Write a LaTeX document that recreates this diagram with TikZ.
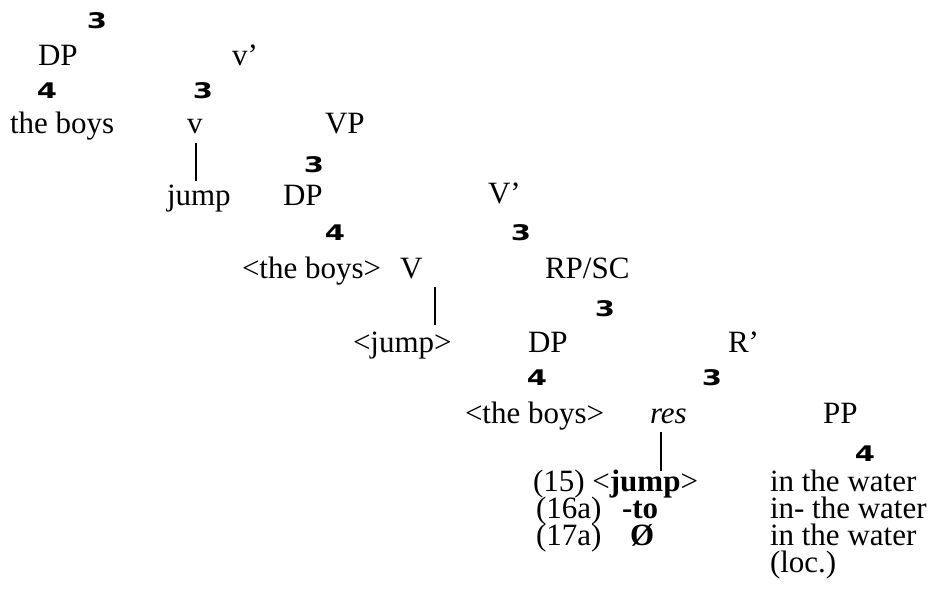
\documentclass[tikz,border=0pt]{standalone}
\usepackage{fontspec}
\setmainfont{Liberation Serif}
\newfontfamily\digfont{DejaVu Sans}[BoldFont={DejaVu Sans Bold}]
\newcommand{\brdig}[1]{\scalebox{1.35}[1]{\digfont\bfseries #1}}
\begin{document}
\begin{tikzpicture}[x=1pt,y=1pt,
  lbl/.style={anchor=base west,inner sep=0pt,outer sep=0pt,font=\fontsize{31}{36}\selectfont},
  dig/.style={anchor=base,inner sep=0pt,outer sep=0pt,font=\fontsize{21.5}{24}\selectfont},
  stem/.style={line width=2.2pt}]
\useasboundingbox (0,0) rectangle (933,-614);
% upper tree
\node[dig] (d1) at (97,-28) {\brdig{3}};
\node[lbl] (DPa) at (38,-65) {DP};
\node[lbl] (vbar) at (232,-65) {v’};
\node[dig] (d2) at (47,-98) {\brdig{4}};
\node[dig] (d3) at (203,-98) {\brdig{3}};
\node[lbl] (boysa) at (10,-133) {the boys};
\node[lbl] (v) at (187,-133) {v};
\node[lbl] (VPa) at (325,-133) {VP};
\node[dig] (d4) at (314,-172) {\brdig{3}};
\node[lbl] (jumpa) at (167,-205) {jump};
\node[lbl] (DPb) at (283,-205) {DP};
\node[lbl] (Vbar) at (488,-203) {V’};
\node[dig] (d5) at (335,-240) {\brdig{4}};
\node[dig] (d6) at (521,-240) {\brdig{3}};
\node[lbl] (boysb) at (242,-278) {<the boys>};
\node[lbl] (V) at (400,-278) {V};
\node[lbl] (RPSC) at (545,-278) {RP/SC};
\node[dig] (d7) at (605,-316) {\brdig{3}};
\node[lbl] (jumpb) at (353,-352) {<jump>};
\node[lbl] (DPc) at (528,-352) {DP};
\node[lbl] (Rbar) at (728,-352) {R’};
\node[dig] (d8) at (537,-385) {\brdig{4}};
\node[dig] (d9) at (712,-385) {\brdig{3}};
\node[lbl] (boysc) at (465,-423) {<the boys>};
\node[lbl] (res) at (650,-423) {\itshape res};
\node[lbl] (PP) at (823,-423) {PP};
\node[dig] (d10) at (865,-461) {\brdig{4}};
% examples
\node[lbl] (exa) at (533,-491) {(15) <\textbf{jump}>};
\node[lbl] (wa) at (770,-491) {in the water};
\node[lbl] (exb) at (536,-518) {(16a)};
\node[lbl] (to) at (622,-518) {\textbf{-to}};
\node[lbl] (wb) at (770,-518) {in- the water};
\node[lbl] (exc) at (536,-545) {(17a)};
\node[lbl] (null) at (630,-545) {\textbf{Ø}};
\node[lbl] (wc) at (770,-545) {in the water};
\node[lbl] (loc) at (770,-572) {(loc.)};
% stems
\draw[stem] ([xshift=1pt,yshift=-10pt]v.base) -- ([xshift=1pt,yshift=3pt]v.base |- jumpa.north);
\draw[stem] ([xshift=24pt,yshift=-9pt]V.base) -- ([xshift=24pt,yshift=6pt]V.base |- jumpb.north);
\draw[stem] ([xshift=-7pt,yshift=-9pt]res.base) -- ([xshift=-7pt,yshift=-1pt]res.base |- exa.north);
\end{tikzpicture}
\end{document}
